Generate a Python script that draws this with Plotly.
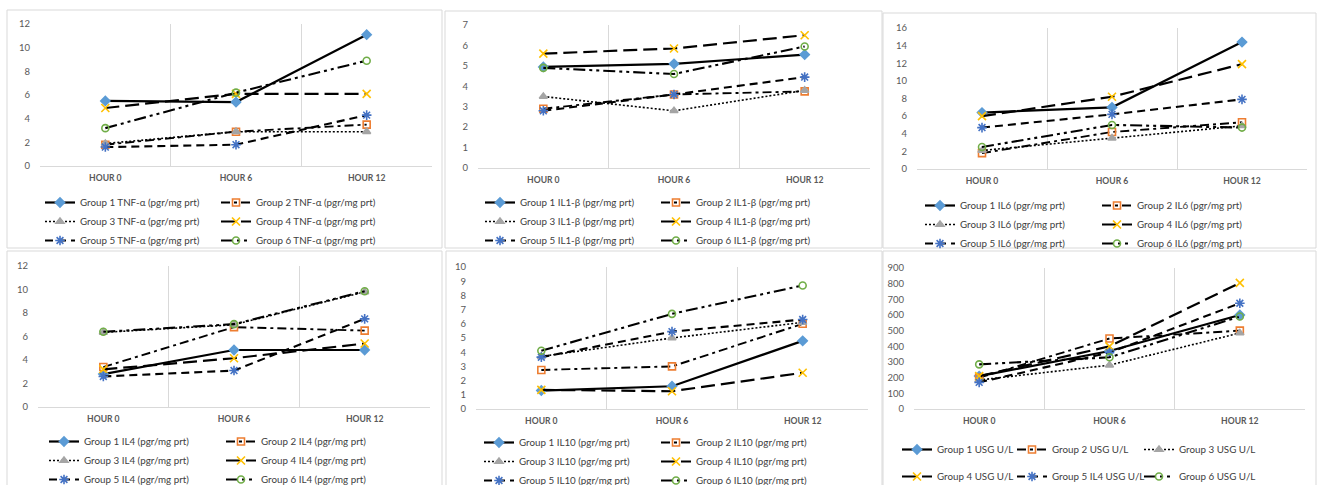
import plotly.graph_objects as go

W, H = 1317, 485

hours = ["HOUR 0", "HOUR 6", "HOUR 12"]
groups = ["Group 1", "Group 2", "Group 3", "Group 4", "Group 5", "Group 6"]

# Mean values per group (rows) at hour 0 / 6 / 12 (columns)
tnf_alpha = [
    [5.5, 5.4, 11.1],
    [1.8, 2.9, 3.5],
    [1.9, 2.9, 2.9],
    [4.9, 6.1, 6.1],
    [1.6, 1.8, 4.3],
    [3.2, 6.2, 8.9],
]
il1_beta = [
    [4.95, 5.1, 5.55],
    [2.9, 3.6, 3.75],
    [3.5, 2.8, 3.8],
    [5.6, 5.85, 6.5],
    [2.8, 3.6, 4.45],
    [4.9, 4.6, 5.95],
]
il6 = [
    [6.4, 7.0, 14.4],
    [1.8, 4.2, 5.3],
    [2.1, 3.5, 4.9],
    [6.0, 8.2, 11.9],
    [4.7, 6.2, 7.9],
    [2.5, 5.0, 4.7],
]
il4 = [
    [2.8, 4.85, 4.85],
    [3.4, 6.8, 6.5],
    [6.35, 7.0, 9.8],
    [3.2, 4.15, 5.4],
    [2.6, 3.1, 7.5],
    [6.4, 7.05, 9.85],
]
il10 = [
    [1.3, 1.6, 4.8],
    [2.75, 3.0, 6.0],
    [3.7, 5.0, 6.1],
    [1.35, 1.25, 2.55],
    [3.65, 5.45, 6.3],
    [4.1, 6.7, 8.7],
]
usg = [
    [210, 370, 600],
    [200, 450, 500],
    [185, 280, 485],
    [210, 400, 805],
    [170, 360, 675],
    [285, 330, 590],
]

tnf_labels = [f"{g} TNF-α (pgr/mg prt)" for g in groups]
il1_labels = [f"{g} IL1-β (pgr/mg prt)" for g in groups]
il6_labels = [f"{g} IL6 (pgr/mg prt)" for g in groups]
il4_labels = [f"{g} IL4 (pgr/mg prt)" for g in groups]
il10_labels = [f"{g} IL10 (pgr/mg prt)" for g in groups]
usg_labels = ["Group 1 USG U/L", "Group 2 USG U/L", "Group 3 USG U/L",
              "Group 4 USG U/L", "Group 5 IL4 USG U/L", "Group 6 USG U/L"]

y_max = [12, 7, 16, 12, 10, 900]
y_step = [2, 1, 2, 2, 1, 100]

# ---- styling ----
FONT = "Lato"
GRID = "#D9D9D9"
TICK = "#595959"
LEG = "#404040"

line_dash = ["solid", "9px,4px,3px,4px", "2px,2px", "14px,6px", "8px,5px",
             "12px,4px,3px,4px,3px,4px"]
line_width = [2.2, 1.9, 1.6, 2.2, 2.1, 2.1]
marker_sym = ["diamond", "square-open", "triangle-up", "x-thin-open",
              "asterisk-open", "circle-open"]
marker_col = ["#5B9BD5", "#ED7D31", "#A5A5A5", "#FFC000", "#4472C4", "#70AD47"]
marker_size = [7, 7, 7, 8, 8, 7]

# plot boxes in pixels: (left, top, right, bottom)
plot_px = [
    (40, 24, 432, 166),
    (478, 25, 870, 168),
    (917, 28, 1307, 169),
    (38, 266, 430, 407),
    (476, 267, 868, 409),
    (914, 268, 1305, 409),
]
# outer frames in pixels
frame_px = [
    (7, 10, 442, 248),
    (445, 11, 882, 248),
    (883, 13, 1316, 248),
    (7, 251, 442, 486),
    (446, 251, 882, 486),
    (883, 251, 1316, 486),
]
# legend columns: (label text x, first row y, member group indices)
legend_px = [
    [(83, 202, [0, 2, 4]), (259, 202, [1, 3, 5])],
    [(523, 202, [0, 2, 4]), (699, 202, [1, 3, 5])],
    [(963, 205, [0, 2, 4]), (1140, 205, [1, 3, 5])],
    [(87, 441, [0, 2, 4]), (264, 441, [1, 3, 5])],
    [(522, 442, [0, 2, 4]), (699, 442, [1, 3, 5])],
    [(940, 449, [0, 3]), (1055, 449, [1, 4]), (1182, 449, [2, 5])],
]
legend_gap = [0, 0, 0, 0, 0, 8]

datasets = [tnf_alpha, il1_beta, il6, il4, il10, usg]
labelsets = [tnf_labels, il1_labels, il6_labels, il4_labels, il10_labels, usg_labels]


def fx(px):
    return px / W


def fy(py):
    return 1 - py / H


fig = go.Figure()
layout = dict(
    width=W, height=H,
    margin=dict(l=0, r=0, t=0, b=0, pad=0, autoexpand=False),
    paper_bgcolor="white", plot_bgcolor="white",
    font=dict(family=FONT, color=TICK),
    showlegend=True,
    shapes=[],
)

legend_no = 0
for p in range(6):
    ax = "" if p == 0 else str(p + 1)
    # map each group to its legend name for this panel
    group_leg = {}
    for col in legend_px[p]:
        legend_no += 1
        lname = "legend" if legend_no == 1 else f"legend{legend_no}"
        tx, ty, members = col
        for g in members:
            group_leg[g] = lname
        layout[lname] = dict(
            x=fx(tx - 43), y=fy(ty - 14), xanchor="left", yanchor="top",
            orientation="v", bgcolor="rgba(0,0,0,0)", borderwidth=0,
            font=dict(family=FONT, size=9.8, color=LEG),
            itemwidth=30, tracegroupgap=legend_gap[p],
            traceorder="grouped" if legend_gap[p] else "normal",
            itemclick=False, itemdoubleclick=False,
        )

    for g in range(6):
        fig.add_trace(go.Scatter(
            x=hours, y=datasets[p][g], name=labelsets[p][g],
            mode="lines+markers",
            xaxis=f"x{ax}", yaxis=f"y{ax}",
            legend=group_leg[g],
            legendgroup=f"p{p}g{g}" if legend_gap[p] else None,
            line=dict(color="black", width=line_width[g], dash=line_dash[g]),
            marker=dict(symbol=marker_sym[g], color=marker_col[g],
                        size=marker_size[g],
                        line=dict(color=marker_col[g], width=1.6)),
            cliponaxis=False,
        ))

    l, t, r, b = plot_px[p]
    layout[f"xaxis{ax}"] = dict(
        domain=[fx(l), fx(r)], anchor=f"y{ax}", type="category",
        range=[-0.5, 2.5], tickson="boundaries", ticks="",
        showgrid=True, gridcolor=GRID, gridwidth=1,
        showline=True, linecolor=GRID, linewidth=1, zeroline=False,
        tickfont=dict(family=FONT, size=8.6, color=TICK, weight="bold"),
        ticklabelstandoff=4, fixedrange=True,
    )
    layout[f"yaxis{ax}"] = dict(
        domain=[fy(b), fy(t)], anchor=f"x{ax}",
        range=[0, y_max[p]], dtick=y_step[p], tick0=0,
        showgrid=False, zeroline=False, showline=False, ticks="",
        tickfont=dict(family=FONT, size=9.5, color=TICK),
        ticklabelstandoff=9, fixedrange=True,
    )

    fl, ft, fr, fb = frame_px[p]
    layout["shapes"].append(dict(
        type="rect", xref="paper", yref="paper",
        x0=fx(fl), x1=fx(fr), y0=fy(fb), y1=fy(ft),
        line=dict(color=GRID, width=1), fillcolor="rgba(0,0,0,0)",
        layer="below",
    ))

fig.update_layout(**layout)
fig.write_html("out.html")
